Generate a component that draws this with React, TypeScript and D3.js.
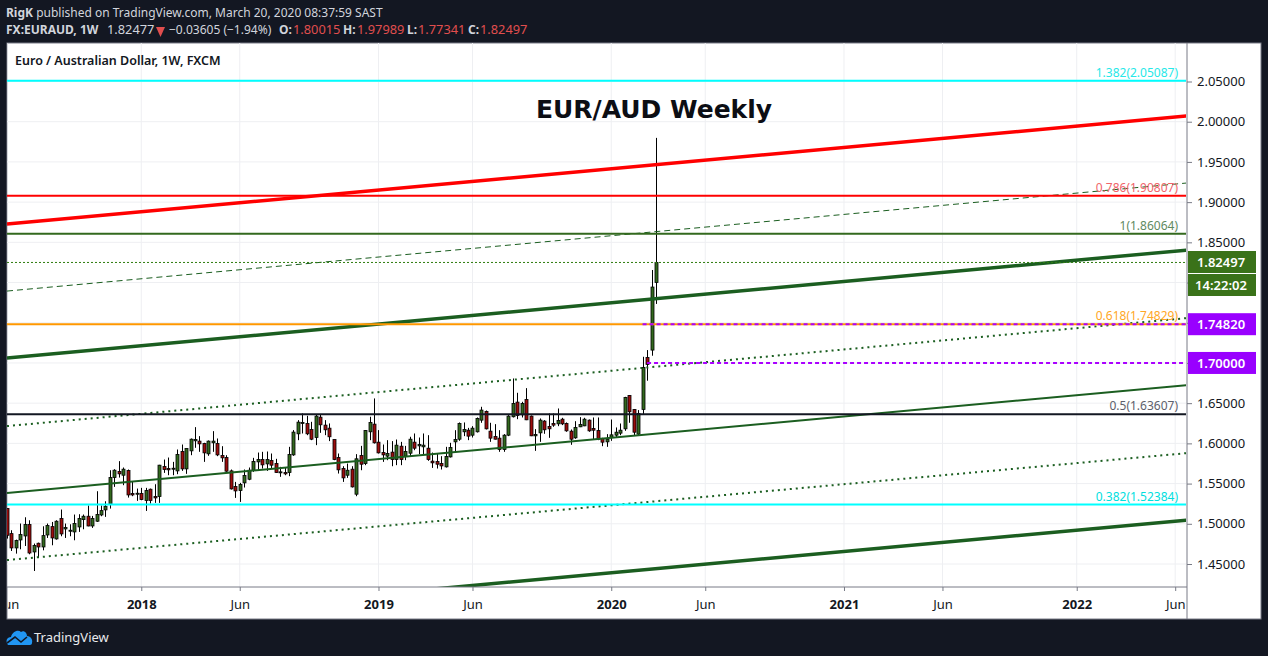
import React, { useEffect, useRef } from 'react';
import * as d3 from 'd3';

// weekly EUR/AUD bars, first bar is the week of 5 Jun 2017
const highs = [
  1.5189,1.4920,1.4803,1.5003,1.5081,1.5044,1.4754,1.4766,1.4969,1.5003,
  1.5023,1.5044,1.5177,1.5003,1.4994,1.5115,1.5119,1.5115,1.5227,1.5098,
  1.5405,1.5227,1.5280,1.5666,1.5679,1.5779,1.5700,1.5675,1.5521,1.5438,
  1.5447,1.5447,1.5438,1.5492,1.5733,1.5799,1.5824,1.5770,1.5924,1.5986,
  1.5936,1.6061,1.6202,1.6090,1.6007,1.6036,1.6152,1.6061,1.5965,1.5853,
  1.5675,1.5521,1.5509,1.5675,1.5700,1.5820,1.5886,1.5895,1.5899,1.5874,
  1.5808,1.5708,1.5700,1.5957,1.6165,1.6289,1.6372,1.6343,1.6268,1.6360,
  1.6360,1.6289,1.6248,1.6048,1.5874,1.5716,1.5749,1.5716,1.5866,1.5969,
  1.6165,1.6331,1.6559,1.6165,1.5986,1.6040,1.6028,1.6048,1.6019,1.5969,
  1.6082,1.6123,1.6073,1.6123,1.6102,1.5886,1.5874,1.5841,1.5957,1.6007,
  1.6164,1.6260,1.6260,1.6193,1.6214,1.6322,1.6455,1.6409,1.6256,1.6239,
  1.6164,1.6115,1.6351,1.6807,1.6629,1.6517,1.6687,1.6347,1.6177,1.6310,
  1.6289,1.6372,1.6372,1.6434,1.6318,1.6260,1.6173,1.6276,1.6326,1.6318,
  1.6297,1.6322,1.6322,1.6069,1.6115,1.6297,1.6198,1.6247,1.6579,1.6600,
  1.6426,1.6414,1.7077,1.7160,1.8156,1.97989,
];
const lows = [
  1.4816,1.4662,1.4629,1.4683,1.4724,1.4621,1.4413,1.4575,1.4670,1.4824,
  1.4733,1.4803,1.4845,1.4824,1.4845,1.4795,1.4899,1.4932,1.4969,1.4949,
  1.5023,1.5094,1.5086,1.5189,1.5459,1.5575,1.5480,1.5326,1.5343,1.5285,
  1.5293,1.5160,1.5252,1.5260,1.5260,1.5633,1.5604,1.5604,1.5617,1.5658,
  1.5621,1.5853,1.5945,1.5895,1.5770,1.5845,1.5895,1.5841,1.5770,1.5646,
  1.5426,1.5322,1.5272,1.5451,1.5542,1.5646,1.5658,1.5687,1.5658,1.5687,
  1.5633,1.5584,1.5604,1.5592,1.5845,1.6040,1.6123,1.6102,1.6040,1.5978,
  1.6131,1.6102,1.6028,1.5791,1.5625,1.5521,1.5571,1.5451,1.5343,1.5666,
  1.5729,1.6040,1.5998,1.5874,1.5770,1.5791,1.5716,1.5729,1.5729,1.5791,
  1.5841,1.5915,1.5866,1.5866,1.5783,1.5695,1.5687,1.5675,1.5700,1.5824,
  1.5895,1.6032,1.6090,1.6040,1.6073,1.6135,1.6256,1.6173,1.6019,1.6048,
  1.5895,1.5895,1.6090,1.6322,1.6301,1.6322,1.6289,1.6090,1.5907,1.6019,
  1.6119,1.6069,1.6206,1.6214,1.6227,1.6144,1.5982,1.6057,1.6202,1.6214,
  1.6144,1.6052,1.6040,1.5965,1.5957,1.6032,1.6069,1.6102,1.6156,1.6256,
  1.6102,1.6102,1.6364,1.6779,1.7090,1.77341,
];
const opens = [
  1.5189,1.4878,1.4700,1.4799,1.4849,1.4990,1.4650,1.4758,1.4712,1.4861,
  1.4965,1.4812,1.5065,1.4936,1.4916,1.4899,1.4961,1.5052,1.5094,1.4973,
  1.5032,1.5110,1.5173,1.5243,1.5575,1.5650,1.5604,1.5662,1.5376,1.5372,
  1.5376,1.5289,1.5430,1.5339,1.5339,1.5712,1.5687,1.5683,1.5658,1.5899,
  1.5683,1.5907,1.6032,1.6028,1.5998,1.5870,1.6007,1.5998,1.5849,1.5824,
  1.5658,1.5463,1.5413,1.5509,1.5554,1.5666,1.5770,1.5799,1.5745,1.5787,
  1.5749,1.5637,1.5637,1.5637,1.5857,1.6119,1.6248,1.6248,1.6173,1.6073,
  1.6326,1.6227,1.6189,1.6048,1.5824,1.5687,1.5604,1.5679,1.5368,1.5849,
  1.5749,1.6144,1.6239,1.6015,1.5886,1.5841,1.5891,1.5799,1.5965,1.5841,
  1.5878,1.6015,1.5969,1.5957,1.5940,1.5779,1.5774,1.5749,1.5708,1.5832,
  1.6019,1.6052,1.6144,1.6164,1.6102,1.6144,1.6289,1.6397,1.6152,1.6086,
  1.6065,1.5924,1.6102,1.6331,1.6513,1.6355,1.6546,1.6339,1.6094,1.6131,
  1.6277,1.6210,1.6247,1.6243,1.6301,1.6247,1.6152,1.6069,1.6206,1.6218,
  1.6289,1.6185,1.6160,1.6061,1.6019,1.6077,1.6102,1.6127,1.6181,1.6596,
  1.6422,1.6115,1.6422,1.7069,1.7160,1.80015,
];
const closes = [
  1.4857,1.4700,1.4791,1.4866,1.4990,1.4637,1.4729,1.4712,1.4853,1.4978,
  1.4824,1.5032,1.4874,1.4953,1.4920,1.5003,1.5065,1.5094,1.4973,1.5065,
  1.5115,1.5164,1.5218,1.5575,1.5666,1.5621,1.5679,1.5359,1.5359,1.5380,
  1.5301,1.5413,1.5289,1.5322,1.5729,1.5675,1.5671,1.5691,1.5862,1.5683,
  1.5936,1.6052,1.6048,1.5994,1.5882,1.6028,1.6028,1.5857,1.5820,1.5654,
  1.5434,1.5409,1.5488,1.5600,1.5666,1.5774,1.5799,1.5733,1.5799,1.5729,
  1.5637,1.5646,1.5621,1.5862,1.6140,1.6264,1.6260,1.6119,1.6052,1.6339,
  1.6231,1.6169,1.6082,1.5799,1.5671,1.5571,1.5666,1.5459,1.5808,1.5741,
  1.6160,1.6260,1.6007,1.5882,1.5857,1.5874,1.5799,1.5978,1.5799,1.5899,
  1.6052,1.5940,1.5986,1.5978,1.5799,1.5758,1.5741,1.5720,1.5836,1.5948,
  1.6048,1.6247,1.6173,1.6090,1.6189,1.6310,1.6414,1.6181,1.6065,1.6052,
  1.5924,1.6102,1.6339,1.6496,1.6347,1.6496,1.6293,1.6094,1.6111,1.6289,
  1.6169,1.6181,1.6227,1.6285,1.6243,1.6156,1.6052,1.6198,1.6235,1.6301,
  1.6156,1.6164,1.6052,1.6015,1.6052,1.6106,1.6139,1.6164,1.6571,1.6393,
  1.6139,1.6372,1.6945,1.6982,1.7944,1.82497,
];

const priceTicks = [1.45, 1.5, 1.55, 1.6, 1.65, 1.7, 1.75, 1.8, 1.85, 1.9, 1.95, 2.0, 2.05];
// these sit behind the price badges, so they get a grid line but no label
const hiddenTicks = [1.7, 1.75, 1.8];
const timeTicks = ['2017-06-05', '2018-01-01', '2018-06-04', '2019-01-07', '2019-06-03', '2020-01-06', '2020-06-01', '2021-01-04', '2021-06-07', '2022-01-03', '2022-06-06'];
const timeLabels = ['Jun', '2018', 'Jun', '2019', 'Jun', '2020', 'Jun', '2021', 'Jun', '2022', 'Jun'];

// parallel channel, all lines run from the left edge to the right edge of the plot
const trendLeft = [1.8728, 1.7894, 1.7061, 1.6215, 1.5382, 1.4549, 1.3703];
const trendRight = [2.0071, 1.9238, 1.8404, 1.7558, 1.6725, 1.5879, 1.5046];
const trendColor = ['#ff0000', '#1b5e20', '#1b5e20', '#1b5e20', '#1b5e20', '#1b5e20', '#1b5e20'];
const trendWidth = [3.5, 1, 3.5, 2, 2, 2, 3.5];
const trendDash = ['', '6,4', '', '2,4', '', '2,4', ''];

const fibLabels = ['1.382(2.05087)', '0.786(1.90807)', '1(1.86064)', '0.618(1.74829)', '0.5(1.63607)', '0.382(1.52384)'];
const fibLevels = [2.05087, 1.90807, 1.86064, 1.74829, 1.63607, 1.52384];
const fibColors = ['#00ffff', '#ff0000', '#33691e', '#ff9800', '#131722', '#00ffff'];
const fibText = ['#26e8e8', '#f0656a', '#5f8a5f', '#ffa726', '#5d606b', '#00dede'];

const lastClose = 1.82497;
const purpleLevels = [1.7482, 1.7];
const purpleStart = ['2020-02-24', '2020-03-02'];

const headerKeys = ['O:', 'H:', 'L:', 'C:'];
const headerVals = ['1.80015', '1.97989', '1.77341', '1.82497'];
const headerKeyX = [279, 343, 407, 468];
const headerValX = [293, 357, 418, 480];

const FONT = '"Noto Sans", sans-serif';

const App: React.FC = () => {
  const svgRef = useRef<SVGSVGElement>(null);

  useEffect(() => {
    document.body.style.margin = '0';
    const W = 1268, H = 656;
    const left = 7, top = 43, plotR = 1187, axisY = 587, panelR = 1261, panelB = 619;

    const parse = d3.utcParse('%Y-%m-%d');
    const t0 = parse('2017-06-05')!;
    const t1 = parse('2020-03-16')!;
    const x = d3.scaleUtc().domain([t0, t1]).range([7, 656]);
    const y = d3.scaleLinear().domain([1.45, 2.05]).range([564, 81.5]);
    const dates = highs.map((_, i) => d3.utcWeek.offset(t0, i));
    const tickDates = timeTicks.map(d => parse(d)!);
    const barX = (i: number) => Math.round(x(dates[i])) + 0.5;

    const svg = d3.select(svgRef.current).attr('width', W).attr('height', H);
    svg.html('');
    svg.append('rect').attr('width', W).attr('height', H).attr('fill', '#131722');
    svg.append('rect').attr('x', left).attr('y', top).attr('width', panelR - left).attr('height', panelB - top)
      .attr('fill', '#ffffff').attr('stroke', '#787b86').attr('stroke-width', 1);

    const defs = svg.append('defs');
    defs.append('clipPath').attr('id', 'plot').append('rect')
      .attr('x', left).attr('y', top).attr('width', plotR - left - 1).attr('height', axisY - top);
    defs.append('clipPath').attr('id', 'panel').append('rect')
      .attr('x', left + 1).attr('y', top).attr('width', panelR - left).attr('height', panelB - top);

    const plot = svg.append('g').attr('clip-path', 'url(#plot)');

    // grid
    plot.append('g').selectAll('line').data(priceTicks).enter().append('line')
      .attr('x1', left).attr('x2', plotR).attr('y1', d => y(d)).attr('y2', d => y(d))
      .attr('stroke', '#eeeff2').attr('stroke-width', 1);
    plot.append('g').selectAll('line').data(tickDates).enter().append('line')
      .attr('x1', d => x(d)).attr('x2', d => x(d)).attr('y1', top).attr('y2', axisY)
      .attr('stroke', '#eeeff2').attr('stroke-width', 1);

    // candles
    const idx = d3.range(highs.length);
    plot.append('g').selectAll('line').data(idx).enter().append('line')
      .attr('x1', barX).attr('x2', barX)
      .attr('y1', i => y(highs[i])).attr('y2', i => y(lows[i]))
      .attr('stroke', '#000').attr('stroke-width', 1);
    plot.append('g').selectAll('rect').data(idx).enter().append('rect')
      .attr('x', i => barX(i) - 1.5).attr('width', 3)
      .attr('y', i => y(Math.max(opens[i], closes[i])))
      .attr('height', i => Math.max(1, Math.abs(y(opens[i]) - y(closes[i]))))
      .attr('fill', i => (closes[i] >= opens[i] ? '#33691e' : '#9c0d0d'))
      .attr('stroke', '#000').attr('stroke-width', 0.8);

    // trend lines
    const xEnd = x.invert(plotR);
    const xBeg = x.invert(left);
    const lineGen = d3.line<[Date, number]>().x(d => x(d[0])).y(d => y(d[1]));
    plot.append('g').selectAll('path').data(idx.slice(0, trendLeft.length)).enter().append('path')
      .attr('d', i => lineGen([[xBeg, trendLeft[i]], [xEnd, trendRight[i]]]))
      .attr('fill', 'none')
      .attr('stroke', i => trendColor[i])
      .attr('stroke-width', i => trendWidth[i])
      .attr('stroke-dasharray', i => trendDash[i]);

    // fib levels
    plot.append('g').selectAll('line').data(fibLevels).enter().append('line')
      .attr('x1', left).attr('x2', plotR).attr('y1', d => y(d)).attr('y2', d => y(d))
      .attr('stroke', (_, i) => fibColors[i]).attr('stroke-width', 2);
    plot.append('line').attr('x1', left).attr('x2', plotR).attr('y1', y(lastClose)).attr('y2', y(lastClose))
      .attr('stroke', '#2e7d0f').attr('stroke-width', 1).attr('stroke-dasharray', '2,2');
    plot.append('g').selectAll('line').data(purpleLevels).enter().append('line')
      .attr('x1', (_, i) => x(parse(purpleStart[i])!)).attr('x2', plotR)
      .attr('y1', d => y(d)).attr('y2', d => y(d))
      .attr('stroke', '#aa00ff').attr('stroke-width', 2).attr('stroke-dasharray', '4,3');
    plot.append('g').selectAll('text').data(fibLabels).enter().append('text')
      .attr('x', 1178).attr('y', (_, i) => y(fibLevels[i]) - 4)
      .attr('text-anchor', 'end').attr('font-family', FONT).attr('font-size', 12)
      .attr('fill', (_, i) => fibText[i]).text(d => d);

    // title
    svg.append('text').attr('x', 654).attr('y', 118).attr('text-anchor', 'middle')
      .attr('font-family', '"DejaVu Sans", sans-serif').attr('font-weight', 700).attr('font-size', 25)
      .attr('fill', '#0c0e14').text('EUR/AUD Weekly');
    svg.append('text').attr('x', 15).attr('y', 65)
      .attr('font-family', FONT).attr('font-weight', 600).attr('font-size', 12.5)
      .attr('fill', '#131722').text('Euro / Australian Dollar, 1W, FXCM');

    // price axis
    const yAxis = svg.append('g').attr('transform', `translate(${plotR},0)`)
      .call(d3.axisRight(y).tickValues(priceTicks).tickFormat(d => d3.format('.5f')(d as number)).tickSize(5).tickPadding(5));
    yAxis.select('.domain').remove();
    yAxis.selectAll('text').attr('font-family', FONT).attr('font-size', 13).attr('fill', '#131722');
    yAxis.selectAll('line').attr('stroke', '#787b86');
    yAxis.selectAll<SVGGElement, number>('.tick').filter(d => hiddenTicks.includes(d)).select('text').remove();
    svg.append('line').attr('x1', plotR).attr('x2', plotR).attr('y1', top).attr('y2', panelB).attr('stroke', '#787b86');

    // time axis
    const xAxis = svg.append('g').attr('clip-path', 'url(#panel)').append('g').attr('transform', `translate(0,${axisY})`)
      .call(d3.axisBottom(x).tickValues(tickDates).tickFormat((_, i) => timeLabels[i]).tickSize(4).tickPadding(9));
    xAxis.select('.domain').remove();
    xAxis.selectAll('line').attr('stroke', '#787b86');
    xAxis.selectAll('text').attr('font-family', FONT).attr('font-size', 13).attr('fill', '#131722')
      .attr('font-weight', (_, i) => (/^\d/.test(timeLabels[i]) ? 700 : 400))
      .attr('dx', (_, i) => (i === 0 ? 2 : 0));
    svg.append('line').attr('x1', left).attr('x2', plotR).attr('y1', axisY).attr('y2', axisY).attr('stroke', '#787b86');

    // price badges
    const badges: [number, string, string][] = [
      [262, d3.format('.5f')(lastClose), '#3a7219'],
      [285, '14:22:02', '#3a7219'],
      [y(purpleLevels[0]), d3.format('.5f')(purpleLevels[0]), '#9900ff'],
      [y(purpleLevels[1]), d3.format('.5f')(purpleLevels[1]), '#9900ff'],
    ];
    const badge = svg.append('g').selectAll('g').data(badges).enter().append('g');
    badge.append('rect').attr('x', 1188).attr('y', d => d[0] - 11).attr('width', 68).attr('height', 22).attr('fill', d => d[2]);
    badge.append('text').attr('x', 1221).attr('y', d => d[0] + 5).attr('text-anchor', 'middle')
      .attr('font-family', FONT).attr('font-weight', 600).attr('font-size', 13).attr('fill', '#fff').text(d => d[1]);

    // header
    const head = svg.append('g').attr('font-family', FONT).attr('font-size', 12).attr('fill', '#d1d4dc');
    const l1 = head.append('text').attr('x', 6).attr('y', 17);
    l1.append('tspan').attr('font-weight', 700).text('RigK');
    l1.append('tspan').text(' published on TradingView.com, March 20, 2020 08:37:59 SAST');
    head.append('text').attr('x', 6).attr('y', 34).attr('font-weight', 700).text('FX:EURAUD, 1W');
    head.append('text').attr('x', 107).attr('y', 34).attr('font-size', 12.8).text('1.82477');
    head.append('path').attr('d', 'M156 27 H165 L160.5 37 Z').attr('fill', '#e04e4e');
    head.append('text').attr('x', 169).attr('y', 34).attr('font-size', 12).text('−0.03605 (−1.94%)');
    head.append('g').selectAll('text').data(headerKeys).enter().append('text')
      .attr('x', (_, i) => headerKeyX[i]).attr('y', 34).attr('font-weight', 700).text(d => d);
    head.append('g').selectAll('text').data(headerVals).enter().append('text')
      .attr('x', (_, i) => headerValX[i]).attr('y', 34).attr('font-size', 12.8).attr('fill', '#e04e4e').text(d => d);

    // logo
    const logo = svg.append('g').attr('transform', 'translate(6,629)');
    logo.append('path').attr('fill', '#2196f3')
      .attr('d', 'M2 16 C-1 12 1 8 5 8 C6 3 12 0 15 3 C18 1 21 4 21 7 C25 7 27 11 26 14 C26 15 25 16 24 16 Z');
    logo.append('path').attr('fill', 'none').attr('stroke', '#131722').attr('stroke-width', 1.6)
      .attr('d', 'M1 14 L9 8 L15 13 L21 8');
    svg.append('text').attr('x', 34).attr('y', 642).attr('font-family', FONT).attr('font-size', 13)
      .attr('fill', '#e8e9ec').text('TradingView');
  }, []);

  return <svg ref={svgRef} style={{ position: 'fixed', left: 0, top: 0, display: 'block' }} />;
};

export default App;
